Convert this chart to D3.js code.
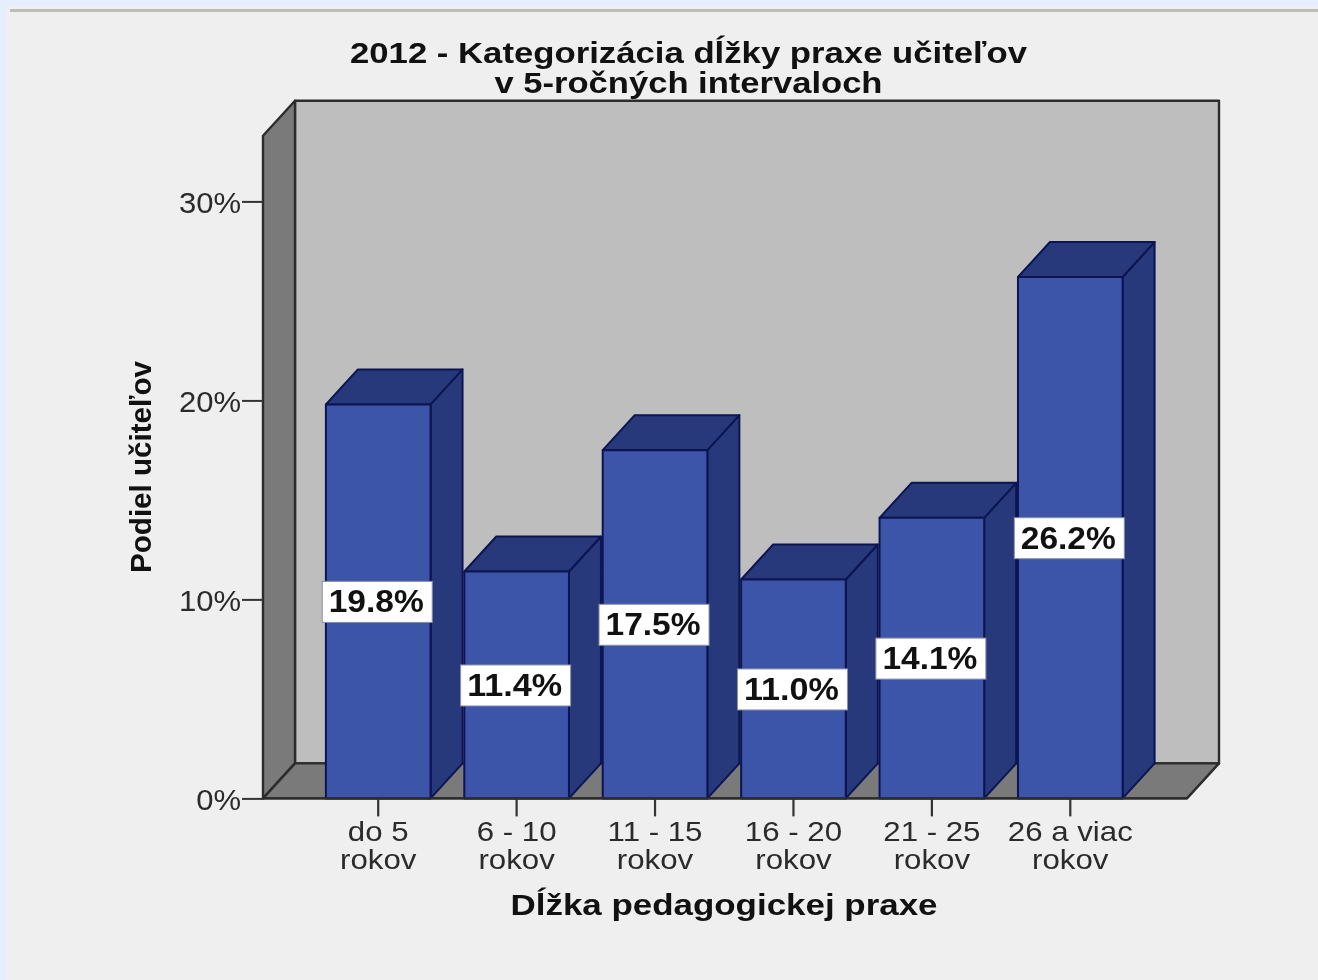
<!DOCTYPE html>
<html><head><meta charset="utf-8"><style>html,body{margin:0;padding:0;background:#e4eefe}svg{display:block;filter:blur(0.5px)}text{font-family:"Liberation Sans",Arial,sans-serif}</style>
<script src="https://cdn.jsdelivr.net/npm/d3@7/dist/d3.min.js"></script></head><body><svg id="c" width="1318" height="980"></svg>
<script>
const categoryTop=["do 5","6 - 10","11 - 15","16 - 20","21 - 25","26 a viac"];
const categoryBottom=["rokov","rokov","rokov","rokov","rokov","rokov"];
const values=[19.8,11.4,17.5,11.0,14.1,26.2];
const labels=["19.8%","11.4%","17.5%","11.0%","14.1%","26.2%"];
const yTicks=[0,10,20,30];
const titleLines=["2012 - Kategorizácia dĺžky praxe učiteľov","v 5-ročných intervaloch"];
const xTitle="Dĺžka pedagogickej praxe", yTitle="Podiel učiteľov";

const svg=d3.select("#c");
svg.append("rect").attr("x",6).attr("y",6).attr("width",1312).attr("height",974).attr("fill","#efefef");
svg.append("rect").attr("x",10).attr("y",9).attr("width",1308).attr("height",3).attr("fill","#bdbdbd");

const y=d3.scaleLinear().domain([0,30]).range([798.4,201.4]);
const x=d3.scaleBand().domain(categoryTop).range([309,1139.5]).paddingInner(0.244).paddingOuter(0.122);
const dx=32,dy=-35;
const wallL=263,wallR=1187,base=y(0),wallT=y(33.3);
const poly=(pts,fill,stroke,sw)=>svg.append("path").attr("d","M"+pts.map(p=>p.join(",")).join("L")+"Z")
  .attr("fill",fill).attr("stroke",stroke).attr("stroke-width",sw).attr("stroke-linejoin","round");
const wallS="#2c2c2c";
// back wall, left wall, floor
poly([[wallL+dx,wallT+dy],[wallR+dx,wallT+dy],[wallR+dx,base+dy],[wallL+dx,base+dy]],"#bebebe",wallS,2.4);
poly([[wallL,wallT],[wallL+dx,wallT+dy],[wallL+dx,base+dy],[wallL,base]],"#7a7a7a",wallS,2.4);
poly([[wallL,base],[wallL+dx,base+dy],[wallR+dx,base+dy],[wallR,base]],"#7a7a7a",wallS,2.4);

const bs="#0b1552";
values.forEach((v,i)=>{
  const k=categoryTop[i],x0=x(k),x1=x0+x.bandwidth(),yt=y(v);
  poly([[x1,yt],[x1+dx,yt+dy],[x1+dx,base+dy],[x1,base]],"#27397a",bs,2);
  poly([[x0,yt],[x0+dx,yt+dy],[x1+dx,yt+dy],[x1,yt]],"#27397a",bs,2);
  poly([[x0,yt],[x1,yt],[x1,base],[x0,base]],"#3c55a9",bs,2);
});
// baseline and axes
svg.append("line").attr("x1",wallL).attr("x2",wallR).attr("y1",base).attr("y2",base).attr("stroke",wallS).attr("stroke-width",2.4);
const ay=svg.append("g").attr("transform",`translate(${wallL},0)`).call(d3.axisLeft(y).tickValues(yTicks).tickSize(21).tickPadding(1).tickFormat(d=>d+"%"));
ay.select(".domain").remove();
ay.selectAll("line").attr("stroke","#333").attr("stroke-width",2);
ay.selectAll("text").attr("font-size",29).attr("fill","#2b2b2b").style("font-family",'"Liberation Sans"').attr("dy","0.38em")
  .each(function(){d3.select(this).attr("textLength",this.getComputedTextLength()*1.07).attr("lengthAdjust","spacingAndGlyphs");});
const ax=svg.append("g").attr("transform",`translate(0,${base})`).call(d3.axisBottom(x).tickSize(18).tickFormat(""));
ax.select(".domain").remove();
ax.selectAll("line").attr("stroke","#333").attr("stroke-width",2.2);
const cat=(cx,yp,t)=>svg.append("text").attr("x",cx).attr("y",yp).attr("text-anchor","middle").attr("font-size",28).attr("fill","#2b2b2b").text(t)
  .each(function(){d3.select(this).attr("textLength",this.getComputedTextLength()*1.115).attr("lengthAdjust","spacingAndGlyphs");});
categoryTop.forEach((c,i)=>{
  const cx=x(c)+x.bandwidth()/2;
  cat(cx,841,c);
  cat(cx,869,categoryBottom[i]);
});
// value labels
values.forEach((v,i)=>{
  const cx=x(categoryTop[i])+x.bandwidth()/2,cy=y(v/2);
  svg.append("rect").attr("x",cx-56).attr("y",cy-20).attr("width",110).attr("height",41).attr("fill","#fff").attr("stroke","#8a8fa8").attr("stroke-width",1);
  svg.append("text").attr("x",cx-2).attr("y",cy+11).attr("text-anchor","middle").attr("font-size",31).attr("font-weight","bold").attr("fill","#111").attr("textLength",95).attr("lengthAdjust","spacingAndGlyphs").text(labels[i]);
});
// titles
const bold=(xp,yp,size,len,t)=>svg.append("text").attr("x",xp).attr("y",yp).attr("text-anchor","middle").attr("font-size",size).attr("font-weight","bold").attr("fill","#111").attr("textLength",len).attr("lengthAdjust","spacingAndGlyphs").text(t);
bold(688.5,63,30,677,titleLines[0]);
bold(688.5,93,30,388,titleLines[1]);
bold(724,915,30,427,xTitle);
svg.append("text").attr("transform","translate(151,467) rotate(-90)").attr("text-anchor","middle").attr("font-size",30).attr("font-weight","bold").attr("fill","#111").attr("textLength",212).attr("lengthAdjust","spacingAndGlyphs").text(yTitle);
</script></body></html>
